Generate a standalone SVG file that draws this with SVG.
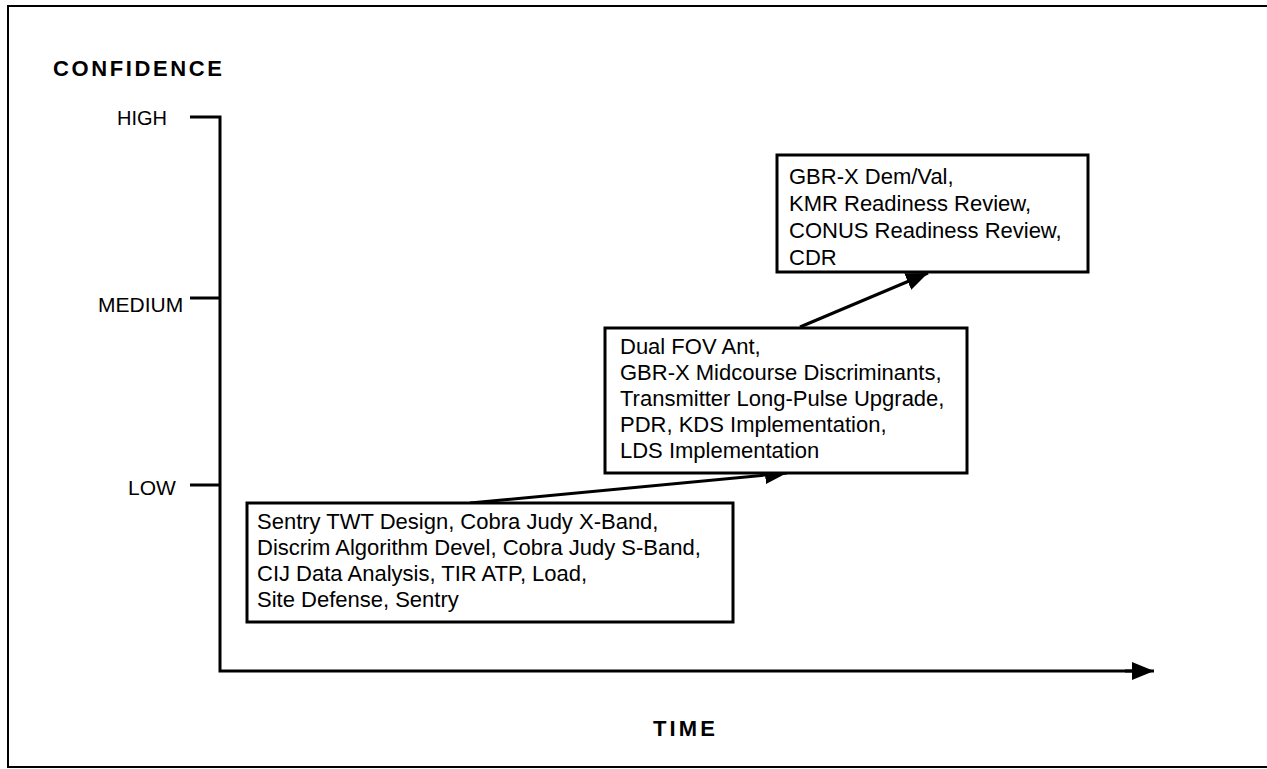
<svg xmlns="http://www.w3.org/2000/svg" width="1267" height="769" viewBox="0 0 1267 769">
<defs>
<style>
.t{font-family:"Liberation Sans",Arial,sans-serif;font-size:22px;fill:#000}
.y{font-family:"Liberation Sans",Arial,sans-serif;font-size:21px;fill:#000}
.b{font-family:"Liberation Sans",Arial,sans-serif;font-size:22px;font-weight:bold;fill:#000}
.box{fill:#fff;stroke:#000;stroke-width:3}
.ln{stroke:#000;stroke-width:3;fill:none}
</style>
<marker id="ah" markerUnits="userSpaceOnUse" markerWidth="24" markerHeight="18" refX="22" refY="9" orient="auto">
<path d="M0,0 L22,9 L0,18 z" fill="#000"/>
</marker>
</defs>
<rect width="1267" height="769" fill="#fff"/>
<path d="M1267,6 H8 V767 H1267" fill="none" stroke="#000" stroke-width="2"/>
<g id="axes">
<text class="b" x="53" y="76" textLength="169" lengthAdjust="spacing">CONFIDENCE</text>
<text class="y" x="117" y="125" textLength="50" lengthAdjust="spacingAndGlyphs">HIGH</text>
<text class="y" x="98" y="312">MEDIUM</text>
<text class="y" x="128" y="495">LOW</text>
<text class="b" x="653" y="736" textLength="62" lengthAdjust="spacing">TIME</text>
<path class="ln" d="M190,117 H220 V671 H1135"/>
<path class="ln" d="M190,298 H220 M190,485 H220"/>
</g>
<g id="connectors">
<line class="ln" x1="1125" y1="671" x2="1154" y2="671" marker-end="url(#ah)"/>
<line class="ln" x1="470" y1="503" x2="787" y2="473" marker-end="url(#ah)"/>
<line class="ln" x1="800" y1="327" x2="928" y2="273" marker-end="url(#ah)"/>
</g>
<g id="node-low">
<rect class="box" x="247" y="503" width="486" height="119"/>
<text class="t" x="257" y="529">Sentry TWT Design, Cobra Judy X-Band,</text>
<text class="t" x="257" y="555">Discrim Algorithm Devel, Cobra Judy S-Band,</text>
<text class="t" x="257" y="581">CIJ Data Analysis, TIR ATP, Load,</text>
<text class="t" x="257" y="607">Site Defense, Sentry</text>
</g>
<g id="node-medium">
<rect class="box" x="605" y="328" width="362" height="145"/>
<text class="t" x="620" y="354">Dual FOV Ant,</text>
<text class="t" x="620" y="380">GBR-X Midcourse Discriminants,</text>
<text class="t" x="620" y="406">Transmitter Long-Pulse Upgrade,</text>
<text class="t" x="620" y="432">PDR, KDS Implementation,</text>
<text class="t" x="620" y="458">LDS Implementation</text>
</g>
<g id="node-high">
<rect class="box" x="777" y="155" width="311" height="117"/>
<text class="t" x="789" y="184">GBR-X Dem/Val,</text>
<text class="t" x="789" y="211">KMR Readiness Review,</text>
<text class="t" x="789" y="238">CONUS Readiness Review,</text>
<text class="t" x="789" y="265">CDR</text>
</g>
</svg>
